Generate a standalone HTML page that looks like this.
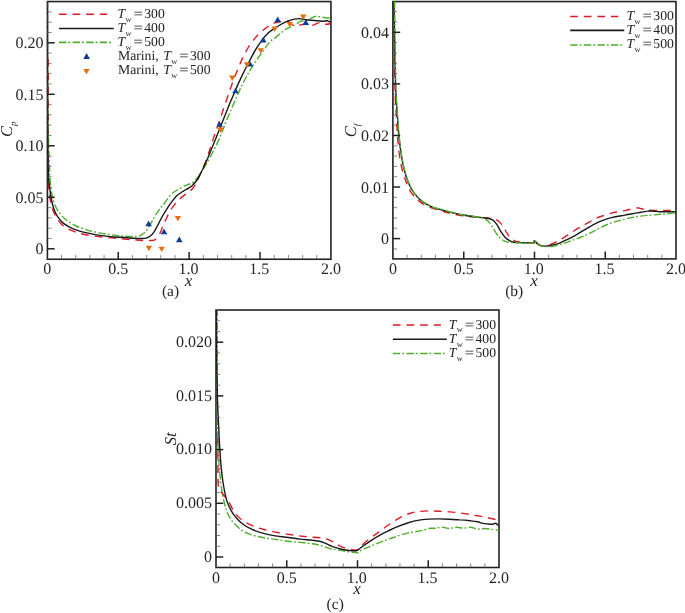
<!DOCTYPE html>
<html><head><meta charset="utf-8"><title>Figure</title>
<style>
html,body{margin:0;padding:0;background:#fff;}
svg{display:block;text-rendering:geometricPrecision;font-family:"Liberation Serif", "Times New Roman", serif;fill:#242424;}
</style></head>
<body>
<svg width="685" height="613" viewBox="0 0 685 613">
<rect x="0" y="0" width="685" height="613" fill="#ffffff"/>
<clipPath id="ca"><rect x="47.4" y="1.55" width="283.55" height="257.7"/></clipPath>
<rect x="47.4" y="1.55" width="283.55" height="257.70" fill="none" stroke="#222" stroke-width="1.6"/>
<g clip-path="url(#ca)">
<path d="M48.3,59.0 C48.3,69.2 48.3,99.7 48.3,120.0 C48.3,140.3 48.1,167.9 48.3,180.6 C48.5,193.3 49.0,191.8 49.7,196.4 C50.4,201.0 51.3,204.5 52.3,207.9 C53.3,211.3 54.4,214.1 55.9,216.7 C57.4,219.3 59.0,221.6 61.1,223.7 C63.2,225.8 65.2,227.4 68.2,229.0 C71.2,230.6 75.0,232.0 78.8,233.1 C82.6,234.2 86.7,234.9 91.1,235.6 C95.5,236.3 100.5,236.8 105.2,237.3 C109.9,237.8 114.6,238.1 119.3,238.5 C124.0,238.9 129.3,239.5 133.4,239.8 C137.5,240.1 141.0,240.4 144.0,240.5 C147.0,240.6 149.7,240.6 151.5,240.5 C153.3,240.4 153.8,240.3 154.8,239.8 C155.8,239.3 156.4,238.8 157.4,237.4 C158.4,236.0 160.0,233.4 160.9,231.3 C161.8,229.2 162.2,227.2 163.1,225.1 C164.0,223.0 165.2,221.0 166.2,219.0 C167.1,217.0 167.7,215.3 168.8,213.3 C169.9,211.3 171.2,209.2 172.7,207.2 C174.2,205.2 175.6,203.1 177.6,201.1 C179.6,199.1 182.4,196.7 184.6,194.9 C186.8,193.1 189.2,192.0 190.8,190.5 C192.4,189.0 193.1,187.8 194.3,186.1 C195.5,184.3 196.5,182.8 197.8,180.0 C199.1,177.2 200.7,172.9 202.2,169.4 C203.7,165.9 204.8,164.0 206.7,158.8 C208.6,153.6 211.2,144.9 213.5,138.1 C215.8,131.3 218.2,124.7 220.5,117.8 C222.8,110.9 225.5,102.7 227.6,96.7 C229.7,90.7 231.1,86.5 232.9,81.7 C234.7,76.9 236.5,72.2 238.3,67.9 C240.1,63.6 241.8,59.5 243.8,55.6 C245.8,51.7 248.0,47.8 250.3,44.4 C252.6,41.0 255.1,37.9 257.5,35.3 C259.9,32.7 262.6,30.6 264.7,28.9 C266.8,27.2 268.4,26.2 270.0,25.2 C271.6,24.2 272.6,23.5 274.6,22.9 C276.6,22.2 280.1,21.7 281.8,21.3 C283.5,20.9 283.8,20.5 284.8,20.5 C285.8,20.5 286.9,20.8 287.9,21.3 C288.9,21.8 290.0,22.8 291.0,23.5 C292.0,24.2 292.4,25.5 294.0,25.7 C295.6,25.9 299.0,25.1 300.7,24.9 C302.4,24.7 302.9,24.4 304.0,24.3 C305.1,24.2 306.2,24.2 307.3,24.4 C308.4,24.6 309.4,25.3 310.5,25.4 C311.6,25.5 312.8,25.2 313.9,24.9 C315.0,24.5 316.0,23.7 317.0,23.3 C318.0,22.9 318.9,22.6 320.0,22.6 C321.1,22.6 322.4,23.2 323.5,23.5 C324.6,23.8 325.4,24.2 326.7,24.2 C327.9,24.2 330.3,23.6 331.0,23.5" fill="none" stroke="#df1a26" stroke-width="1.4" stroke-dasharray="7.7 5.9" stroke-linejoin="round"/>
<path d="M47.5,1.0 C47.5,17.5 47.5,76.8 47.7,100.0 C47.9,123.2 48.2,128.3 48.5,140.0 C48.8,151.7 49.2,162.1 49.6,170.0 C50.0,177.9 50.3,182.6 50.9,187.6 C51.5,192.6 52.2,196.5 53.2,200.0 C54.2,203.5 55.4,206.3 56.7,208.8 C58.0,211.3 59.5,213.0 61.1,214.9 C62.7,216.8 64.1,218.4 66.4,220.2 C68.8,222.0 72.0,223.9 75.2,225.5 C78.4,227.1 82.0,228.4 85.8,229.6 C89.6,230.8 94.0,231.8 98.1,232.6 C102.2,233.4 106.4,234.1 110.5,234.7 C114.6,235.3 118.9,235.7 122.8,236.0 C126.7,236.3 131.0,236.6 133.8,236.5 C136.7,236.4 138.3,236.2 139.9,235.7 C141.5,235.2 142.2,234.4 143.4,233.5 C144.6,232.6 145.7,231.5 146.9,230.0 C148.1,228.5 149.2,226.3 150.4,224.3 C151.6,222.3 152.7,220.1 153.9,218.1 C155.1,216.1 156.2,214.2 157.4,212.4 C158.6,210.6 159.7,209.0 160.9,207.4 C162.1,205.8 162.8,205.2 164.6,203.0 C166.3,200.8 168.9,196.5 171.4,194.1 C173.9,191.7 176.8,190.3 179.3,188.8 C181.8,187.3 184.2,186.2 186.4,185.2 C188.6,184.2 190.7,183.9 192.6,182.6 C194.5,181.3 196.1,179.5 197.8,177.3 C199.6,175.1 201.2,172.5 203.1,169.4 C205.0,166.3 206.7,163.7 209.3,158.8 C211.9,153.9 216.1,146.0 218.8,139.9 C221.6,133.8 223.5,127.9 225.8,122.2 C228.2,116.5 230.6,110.9 232.9,105.5 C235.2,100.1 237.6,94.6 239.9,89.6 C242.2,84.6 244.6,80.0 247.0,75.6 C249.4,71.2 251.8,67.4 254.5,63.2 C257.2,59.0 260.9,54.1 263.5,50.5 C266.1,46.9 268.1,43.8 270.0,41.8 C271.9,39.8 273.0,39.5 274.6,38.2 C276.2,36.9 277.9,35.6 279.7,34.1 C281.5,32.6 283.5,30.7 285.3,29.5 C287.1,28.3 288.7,27.9 290.4,27.0 C292.1,26.1 293.8,25.3 295.5,24.4 C297.2,23.5 299.0,22.1 300.7,21.4 C302.4,20.7 304.1,20.8 305.8,20.3 C307.5,19.8 309.4,18.9 310.9,18.3 C312.4,17.7 313.5,16.8 315.0,16.5 C316.5,16.2 318.4,16.6 320.1,16.8 C321.8,17.0 323.5,17.6 325.2,17.8 C326.9,18.0 329.4,18.1 330.3,18.1" fill="none" stroke="#4fae2a" stroke-width="1.4" stroke-dasharray="7.4 2 1.8 2.4" stroke-linejoin="round"/>
<path d="M47.5,1.0 C47.5,17.5 47.5,71.8 47.6,100.0 C47.7,128.2 47.9,155.4 48.3,170.0 C48.6,184.6 49.2,182.6 49.7,187.6 C50.2,192.6 50.8,196.3 51.5,200.0 C52.2,203.7 53.1,206.8 54.1,209.6 C55.1,212.4 56.1,214.5 57.6,216.7 C59.1,218.9 60.8,221.1 62.9,222.9 C65.0,224.7 67.3,226.0 70.0,227.3 C72.7,228.6 75.6,229.8 78.8,230.8 C82.0,231.8 85.5,232.6 89.3,233.4 C93.1,234.2 97.6,235.0 101.7,235.6 C105.8,236.2 110.1,236.7 114.0,237.0 C117.9,237.3 121.7,237.3 125.0,237.5 C128.3,237.7 130.9,238.1 133.8,238.3 C136.7,238.5 140.3,238.6 142.5,238.5 C144.7,238.4 145.6,238.2 146.9,237.8 C148.2,237.4 149.2,236.9 150.4,236.0 C151.6,235.1 152.7,233.8 153.9,232.1 C155.1,230.4 156.2,228.2 157.4,226.0 C158.6,223.8 159.7,221.2 160.9,219.0 C162.1,216.8 163.2,214.8 164.4,212.9 C165.6,211.0 166.8,209.1 167.9,207.4 C169.0,205.7 169.7,204.5 171.2,202.6 C172.7,200.7 174.8,197.7 176.7,195.8 C178.6,193.9 180.8,192.7 182.9,191.4 C185.0,190.1 187.4,188.9 189.0,187.9 C190.6,186.9 191.3,186.5 192.6,185.2 C193.9,183.9 195.4,182.5 197.0,180.0 C198.6,177.5 200.4,173.8 202.2,170.3 C203.9,166.8 205.3,163.9 207.5,158.8 C209.7,153.7 212.7,146.0 215.2,139.9 C217.7,133.8 220.0,128.1 222.3,122.2 C224.7,116.3 227.0,110.3 229.3,104.6 C231.7,98.9 234.1,93.2 236.4,87.9 C238.8,82.6 241.1,77.6 243.4,72.9 C245.7,68.2 247.9,64.0 250.0,60.0 C252.1,56.0 253.8,52.6 255.9,49.2 C257.9,45.8 260.2,42.6 262.3,39.8 C264.4,37.0 266.4,34.7 268.7,32.6 C271.0,30.5 273.8,28.9 276.1,27.4 C278.4,25.9 280.2,24.7 282.3,23.6 C284.4,22.5 286.4,21.6 288.4,20.8 C290.4,20.1 292.6,19.5 294.5,19.1 C296.4,18.7 297.9,18.5 299.6,18.6 C301.3,18.7 302.8,19.2 304.7,19.5 C306.6,19.8 308.7,20.1 310.9,20.3 C313.1,20.5 316.0,20.6 318.0,20.8 C320.0,21.0 321.7,21.3 323.1,21.3 C324.6,21.3 325.4,20.7 326.7,20.8 C328.0,20.9 330.1,22.0 330.8,22.2" fill="none" stroke="#1a1a1a" stroke-width="1.4" stroke-linejoin="round"/>
<path d="M145.3,226.2 L151.9,226.2 L148.6,220.5 Z" fill="#0f3c96"/>
<path d="M160.7,234.2 L167.3,234.2 L164.0,228.6 Z" fill="#0f3c96"/>
<path d="M176.0,242.2 L182.6,242.2 L179.3,236.5 Z" fill="#0f3c96"/>
<path d="M216.3,126.8 L222.9,126.8 L219.6,121.2 Z" fill="#0f3c96"/>
<path d="M232.2,93.3 L238.8,93.3 L235.5,87.7 Z" fill="#0f3c96"/>
<path d="M246.7,66.5 L253.3,66.5 L250.0,60.8 Z" fill="#0f3c96"/>
<path d="M274.4,22.2 L281.0,22.2 L277.7,16.4 Z" fill="#0f3c96"/>
<path d="M302.5,25.1 L309.1,25.1 L305.8,19.3 Z" fill="#0f3c96"/>
<path d="M259.9,42.4 L266.5,42.4 L263.2,36.6 Z" fill="#0f3c96"/>
<path d="M145.7,245.7 L152.1,245.7 L148.9,251.1 Z" fill="#e66e0a"/>
<path d="M158.5,246.7 L164.9,246.7 L161.7,252.1 Z" fill="#e66e0a"/>
<path d="M174.7,216.0 L181.1,216.0 L177.9,221.4 Z" fill="#e66e0a"/>
<path d="M217.3,127.5 L223.7,127.5 L220.5,132.9 Z" fill="#e66e0a"/>
<path d="M229.1,75.5 L235.5,75.5 L232.3,80.9 Z" fill="#e66e0a"/>
<path d="M243.8,62.3 L250.2,62.3 L247.0,67.7 Z" fill="#e66e0a"/>
<path d="M257.5,48.2 L263.9,48.2 L260.7,53.6 Z" fill="#e66e0a"/>
<path d="M271.4,26.6 L277.8,26.6 L274.6,32.0 Z" fill="#e66e0a"/>
<path d="M286.5,21.9 L292.9,21.9 L289.7,27.3 Z" fill="#e66e0a"/>
<path d="M300.0,14.6 L306.4,14.6 L303.2,20.0 Z" fill="#e66e0a"/>
</g>
<line x1="61.53" y1="259.25" x2="61.53" y2="255.05" stroke="#555" stroke-width="0.7"/>
<line x1="75.71" y1="259.25" x2="75.71" y2="255.05" stroke="#555" stroke-width="0.7"/>
<line x1="89.89" y1="259.25" x2="89.89" y2="255.05" stroke="#555" stroke-width="0.7"/>
<line x1="104.07" y1="259.25" x2="104.07" y2="255.05" stroke="#555" stroke-width="0.7"/>
<line x1="132.43" y1="259.25" x2="132.43" y2="255.05" stroke="#555" stroke-width="0.7"/>
<line x1="146.61" y1="259.25" x2="146.61" y2="255.05" stroke="#555" stroke-width="0.7"/>
<line x1="160.79" y1="259.25" x2="160.79" y2="255.05" stroke="#555" stroke-width="0.7"/>
<line x1="174.97" y1="259.25" x2="174.97" y2="255.05" stroke="#555" stroke-width="0.7"/>
<line x1="203.33" y1="259.25" x2="203.33" y2="255.05" stroke="#555" stroke-width="0.7"/>
<line x1="217.51" y1="259.25" x2="217.51" y2="255.05" stroke="#555" stroke-width="0.7"/>
<line x1="231.69" y1="259.25" x2="231.69" y2="255.05" stroke="#555" stroke-width="0.7"/>
<line x1="245.87" y1="259.25" x2="245.87" y2="255.05" stroke="#555" stroke-width="0.7"/>
<line x1="274.23" y1="259.25" x2="274.23" y2="255.05" stroke="#555" stroke-width="0.7"/>
<line x1="288.41" y1="259.25" x2="288.41" y2="255.05" stroke="#555" stroke-width="0.7"/>
<line x1="302.59" y1="259.25" x2="302.59" y2="255.05" stroke="#555" stroke-width="0.7"/>
<line x1="316.77" y1="259.25" x2="316.77" y2="255.05" stroke="#555" stroke-width="0.7"/>
<line x1="118.25" y1="259.25" x2="118.25" y2="251.95" stroke="#222" stroke-width="1.5"/>
<line x1="189.15" y1="259.25" x2="189.15" y2="251.95" stroke="#222" stroke-width="1.5"/>
<line x1="260.05" y1="259.25" x2="260.05" y2="251.95" stroke="#222" stroke-width="1.5"/>
<line x1="47.4" y1="238.50" x2="51.6" y2="238.50" stroke="#555" stroke-width="0.7"/>
<line x1="47.4" y1="228.20" x2="51.6" y2="228.20" stroke="#555" stroke-width="0.7"/>
<line x1="47.4" y1="217.90" x2="51.6" y2="217.90" stroke="#555" stroke-width="0.7"/>
<line x1="47.4" y1="207.60" x2="51.6" y2="207.60" stroke="#555" stroke-width="0.7"/>
<line x1="47.4" y1="187.00" x2="51.6" y2="187.00" stroke="#555" stroke-width="0.7"/>
<line x1="47.4" y1="176.70" x2="51.6" y2="176.70" stroke="#555" stroke-width="0.7"/>
<line x1="47.4" y1="166.40" x2="51.6" y2="166.40" stroke="#555" stroke-width="0.7"/>
<line x1="47.4" y1="156.10" x2="51.6" y2="156.10" stroke="#555" stroke-width="0.7"/>
<line x1="47.4" y1="135.50" x2="51.6" y2="135.50" stroke="#555" stroke-width="0.7"/>
<line x1="47.4" y1="125.20" x2="51.6" y2="125.20" stroke="#555" stroke-width="0.7"/>
<line x1="47.4" y1="114.90" x2="51.6" y2="114.90" stroke="#555" stroke-width="0.7"/>
<line x1="47.4" y1="104.60" x2="51.6" y2="104.60" stroke="#555" stroke-width="0.7"/>
<line x1="47.4" y1="84.00" x2="51.6" y2="84.00" stroke="#555" stroke-width="0.7"/>
<line x1="47.4" y1="73.70" x2="51.6" y2="73.70" stroke="#555" stroke-width="0.7"/>
<line x1="47.4" y1="63.40" x2="51.6" y2="63.40" stroke="#555" stroke-width="0.7"/>
<line x1="47.4" y1="53.10" x2="51.6" y2="53.10" stroke="#555" stroke-width="0.7"/>
<line x1="47.4" y1="32.50" x2="51.6" y2="32.50" stroke="#555" stroke-width="0.7"/>
<line x1="47.4" y1="22.20" x2="51.6" y2="22.20" stroke="#555" stroke-width="0.7"/>
<line x1="47.4" y1="11.90" x2="51.6" y2="11.90" stroke="#555" stroke-width="0.7"/>
<line x1="47.4" y1="248.80" x2="54.699999999999996" y2="248.80" stroke="#222" stroke-width="1.5"/>
<line x1="47.4" y1="197.30" x2="54.699999999999996" y2="197.30" stroke="#222" stroke-width="1.5"/>
<line x1="47.4" y1="145.80" x2="54.699999999999996" y2="145.80" stroke="#222" stroke-width="1.5"/>
<line x1="47.4" y1="94.30" x2="54.699999999999996" y2="94.30" stroke="#222" stroke-width="1.5"/>
<line x1="47.4" y1="42.80" x2="54.699999999999996" y2="42.80" stroke="#222" stroke-width="1.5"/>
<text x="43.40" y="254.30" text-anchor="end" font-size="16">0</text>
<text x="43.40" y="202.80" text-anchor="end" font-size="16">0.05</text>
<text x="43.40" y="151.30" text-anchor="end" font-size="16">0.10</text>
<text x="43.40" y="99.80" text-anchor="end" font-size="16">0.15</text>
<text x="43.40" y="48.30" text-anchor="end" font-size="16">0.20</text>
<text x="47.35" y="274.45" text-anchor="middle" font-size="16">0</text>
<text x="118.25" y="274.45" text-anchor="middle" font-size="16">0.5</text>
<text x="188.45" y="274.45" text-anchor="middle" font-size="16">1.0</text>
<text x="259.35" y="274.45" text-anchor="middle" font-size="16">1.5</text>
<text x="330.95" y="274.45" text-anchor="middle" font-size="16">2.0</text>
<line x1="59" y1="14.3" x2="107" y2="14.3" stroke="#df1a26" stroke-width="1.6" stroke-dasharray="7.7 5.9"/>
<line x1="59" y1="28.5" x2="113.8" y2="28.5" stroke="#1a1a1a" stroke-width="1.6"/>
<line x1="59" y1="42.4" x2="111.2" y2="42.4" stroke="#4fae2a" stroke-width="1.6" stroke-dasharray="7.4 2 1.8 2.4"/>
<path d="M83.3,58.9 L89.9,58.9 L86.6,53.1 Z" fill="#0f3c96"/>
<path d="M83.3,68.9 L89.7,68.9 L86.5,74.3 Z" fill="#e66e0a"/>
<text x="117.4" y="17.8" font-size="13.7" font-style="italic">T</text>
<text x="125.5" y="21.6" font-size="8.2">w</text>
<text x="133.5" y="17.8" font-size="13.7" textLength="9.4" lengthAdjust="spacingAndGlyphs">=</text>
<text x="144.2" y="17.8" font-size="13.7">300</text>
<text x="117.4" y="31.8" font-size="13.7" font-style="italic">T</text>
<text x="125.5" y="35.6" font-size="8.2">w</text>
<text x="133.5" y="31.8" font-size="13.7" textLength="9.4" lengthAdjust="spacingAndGlyphs">=</text>
<text x="144.2" y="31.8" font-size="13.7">400</text>
<text x="117.4" y="45.9" font-size="13.7" font-style="italic">T</text>
<text x="125.5" y="49.7" font-size="8.2">w</text>
<text x="133.5" y="45.9" font-size="13.7" textLength="9.4" lengthAdjust="spacingAndGlyphs">=</text>
<text x="144.2" y="45.9" font-size="13.7">500</text>
<text x="118.0" y="60.2" font-size="13.7">Marini,</text>
<text x="163.2" y="60.2" font-size="13.7" font-style="italic">T</text>
<text x="171.3" y="64.0" font-size="8.2">w</text>
<text x="179.3" y="60.2" font-size="13.7" textLength="9.4" lengthAdjust="spacingAndGlyphs">=</text>
<text x="190.0" y="60.2" font-size="13.7">300</text>
<text x="118.0" y="74.4" font-size="13.7">Marini,</text>
<text x="163.2" y="74.4" font-size="13.7" font-style="italic">T</text>
<text x="171.3" y="78.2" font-size="8.2">w</text>
<text x="179.3" y="74.4" font-size="13.7" textLength="9.4" lengthAdjust="spacingAndGlyphs">=</text>
<text x="190.0" y="74.4" font-size="13.7">500</text>
<text transform="translate(12.2,137) rotate(-90)" font-size="16.5" font-style="italic">C<tspan font-size="9" dy="3.4">p</tspan></text>
<text x="188.4" y="286.1" text-anchor="middle" font-size="17" font-style="italic">x</text>
<text x="170.5" y="296.3" text-anchor="middle" font-size="15.5">(a)</text>
<clipPath id="cb"><rect x="392.9" y="1.55" width="283.1" height="257.34999999999997"/></clipPath>
<rect x="392.9" y="1.55" width="283.10" height="257.35" fill="none" stroke="#222" stroke-width="1.6"/>
<g clip-path="url(#cb)">
<path d="M393.7,1.0 C393.8,9.2 394.1,34.1 394.4,50.0 C394.6,65.9 394.9,85.4 395.2,96.2 C395.5,107.0 395.9,108.8 396.2,114.6 C396.5,120.4 396.8,125.3 397.2,131.1 C397.6,136.9 398.0,143.7 398.7,149.5 C399.4,155.3 400.2,160.9 401.3,166.0 C402.4,171.1 403.9,176.0 405.5,180.3 C407.1,184.6 408.4,188.2 410.6,191.6 C412.8,195.0 415.7,198.3 418.8,200.9 C421.9,203.5 425.3,205.3 429.1,207.0 C432.9,208.7 437.8,209.8 441.4,210.8 C445.0,211.9 446.9,212.5 450.5,213.3 C454.1,214.2 458.7,215.3 462.8,215.9 C466.9,216.5 470.9,216.8 475.0,217.1 C479.1,217.4 484.1,217.7 487.3,218.0 C490.5,218.3 492.4,218.4 494.3,218.9 C496.2,219.4 497.2,219.9 498.7,221.2 C500.2,222.4 501.8,224.5 503.1,226.4 C504.4,228.3 505.4,230.8 506.6,232.6 C507.8,234.4 508.8,236.1 510.1,237.5 C511.4,238.9 512.8,240.0 514.5,240.8 C516.2,241.6 517.5,241.8 520.6,242.2 C523.7,242.5 530.7,242.8 532.9,242.9 C535.1,243.0 533.6,242.9 533.7,242.9 L534.0,241.0 C534.1,241.0 534.2,240.6 534.5,240.8 C534.8,241.0 535.4,241.7 536.0,242.3 C536.6,242.9 537.2,243.8 538.1,244.4 C539.0,245.0 540.3,245.5 541.5,245.7 C542.7,245.9 543.7,246.1 545.4,245.8 C547.1,245.5 549.8,244.8 551.9,244.0 C554.0,243.2 555.8,242.1 557.7,241.1 C559.6,240.1 561.5,239.1 563.5,237.9 C565.5,236.7 567.4,235.4 569.4,234.1 C571.4,232.8 573.2,231.3 575.2,230.0 C577.2,228.7 579.2,227.6 581.1,226.5 C583.0,225.4 585.0,224.5 586.9,223.4 C588.8,222.3 590.9,221.1 592.7,220.1 C594.5,219.1 595.7,218.4 597.6,217.6 C599.5,216.8 601.9,216.2 604.2,215.4 C606.5,214.7 609.1,213.7 611.4,213.1 C613.7,212.5 615.6,212.2 618.0,211.8 C620.4,211.4 623.7,210.9 625.9,210.4 C628.1,209.9 629.5,209.3 631.1,208.9 C632.7,208.5 634.3,208.1 635.5,207.9 C636.7,207.8 637.1,207.8 638.5,208.0 C639.9,208.2 641.6,208.8 643.6,209.2 C645.6,209.5 648.0,209.9 650.2,210.1 C652.4,210.3 654.6,210.4 656.8,210.5 C659.0,210.6 661.2,210.5 663.3,210.5 C665.4,210.5 667.1,210.6 669.2,210.5 C671.3,210.4 674.9,209.8 676.0,209.7" fill="none" stroke="#df1a26" stroke-width="1.4" stroke-dasharray="7.7 5.9" stroke-linejoin="round"/>
<path d="M394.0,1.0 C394.1,9.2 394.5,35.2 394.8,50.0 C395.1,64.8 395.3,79.9 395.7,90.0 C396.1,100.1 396.5,103.7 397.0,110.5 C397.5,117.3 397.9,124.6 398.5,131.1 C399.1,137.6 399.6,143.3 400.5,149.5 C401.4,155.7 402.5,162.5 403.8,168.0 C405.1,173.5 406.5,178.1 408.3,182.4 C410.1,186.7 412.1,190.4 414.5,193.7 C416.9,196.9 419.6,199.6 422.7,201.9 C425.8,204.2 430.1,206.1 433.0,207.3 C435.9,208.6 437.1,208.6 440.0,209.4 C442.9,210.2 446.7,211.5 450.5,212.4 C454.3,213.3 458.7,214.3 462.8,215.0 C466.9,215.7 471.2,216.3 475.0,216.8 C478.8,217.3 482.6,217.5 485.5,218.0 C488.4,218.5 490.7,218.7 492.6,219.8 C494.5,220.9 495.6,222.9 496.9,224.7 C498.2,226.5 499.1,228.8 500.4,230.8 C501.7,232.8 503.3,235.3 504.8,236.9 C506.3,238.5 507.7,239.5 509.2,240.4 C510.7,241.3 511.4,241.8 513.6,242.2 C515.8,242.6 519.1,242.6 522.3,242.7 C525.5,242.8 531.0,242.9 532.9,242.9 C534.8,242.9 533.6,242.9 533.7,242.9 L534.0,241.0 C534.1,241.0 534.2,240.6 534.5,240.8 C534.8,241.0 535.4,241.7 536.0,242.3 C536.6,242.9 537.3,243.7 538.0,244.2 C538.7,244.7 539.0,245.1 540.0,245.4 C541.0,245.7 542.1,246.0 543.7,246.1 C545.3,246.2 547.5,246.1 549.5,245.8 C551.5,245.5 553.4,245.0 555.4,244.4 C557.4,243.8 559.3,243.1 561.2,242.3 C563.1,241.5 564.7,240.8 567.0,239.7 C569.3,238.6 572.5,237.0 575.0,235.6 C577.5,234.2 579.9,232.7 582.3,231.2 C584.7,229.7 587.2,228.2 589.6,226.8 C592.0,225.4 594.5,224.1 596.9,222.9 C599.3,221.7 601.8,220.7 604.2,219.8 C606.6,218.9 608.6,218.3 611.5,217.6 C614.4,216.9 618.6,216.3 621.3,215.8 C624.0,215.3 625.6,214.9 627.8,214.5 C630.0,214.1 632.2,213.8 634.4,213.4 C636.6,213.0 638.8,212.7 641.0,212.3 C643.2,211.9 646.1,211.3 647.6,211.1 C649.1,210.8 649.1,210.8 650.2,210.8 C651.3,210.9 652.4,211.2 654.1,211.4 C655.9,211.6 658.3,211.8 660.7,211.8 C663.1,211.9 666.4,211.7 668.6,211.7 C670.8,211.7 672.6,211.7 673.8,211.8 C675.0,211.9 675.6,212.3 676.0,212.4" fill="none" stroke="#1a1a1a" stroke-width="1.4" stroke-linejoin="round"/>
<path d="M394.6,1.0 C394.7,9.2 395.0,35.2 395.2,50.0 C395.4,64.8 395.7,79.9 396.0,90.0 C396.3,100.1 396.8,103.7 397.2,110.5 C397.6,117.3 398.1,124.6 398.7,131.1 C399.3,137.6 399.8,143.3 400.7,149.5 C401.6,155.7 402.7,162.5 404.0,168.0 C405.3,173.5 406.7,178.1 408.5,182.4 C410.3,186.7 412.3,190.4 414.7,193.7 C417.1,196.9 419.8,199.6 422.9,201.9 C426.0,204.2 430.3,206.3 433.2,207.5 C436.1,208.7 435.9,207.8 440.0,208.8 C444.1,209.9 451.7,212.5 457.5,213.8 C463.3,215.1 470.8,216.1 475.0,216.8 C479.2,217.5 480.7,217.5 482.9,218.2 C485.1,218.9 486.6,219.7 488.2,221.2 C489.8,222.7 491.2,225.1 492.6,227.3 C494.1,229.5 495.4,232.3 496.9,234.3 C498.3,236.3 499.7,237.9 501.3,239.2 C502.9,240.4 504.6,241.2 506.6,241.8 C508.7,242.4 509.2,242.5 513.6,242.7 C518.0,242.9 529.5,243.0 532.9,243.1 C536.2,243.2 533.6,243.1 533.7,243.1 L534.0,241.0 C534.1,241.0 534.2,240.6 534.5,240.8 C534.8,241.0 535.4,241.8 536.0,242.4 C536.6,243.0 537.3,243.9 538.0,244.4 C538.7,244.9 538.9,245.3 540.2,245.7 C541.5,246.1 543.9,246.5 546.0,246.6 C548.1,246.7 550.7,246.5 553.0,246.2 C555.3,245.9 557.7,245.2 560.0,244.6 C562.3,243.9 564.6,243.1 567.0,242.3 C569.4,241.5 571.8,240.5 574.1,239.6 C576.5,238.7 578.8,237.9 581.1,237.0 C583.4,236.1 585.8,235.2 588.1,234.1 C590.4,233.0 592.9,231.7 595.1,230.5 C597.4,229.3 599.4,228.2 601.6,227.2 C603.8,226.1 605.9,225.1 608.1,224.2 C610.3,223.3 612.5,222.6 614.7,221.9 C616.9,221.2 619.1,220.6 621.3,220.0 C623.5,219.4 625.6,218.9 627.8,218.4 C630.0,217.9 632.2,217.5 634.4,217.1 C636.6,216.7 638.8,216.4 641.0,216.1 C643.2,215.8 645.4,215.6 647.6,215.4 C649.8,215.2 651.9,215.1 654.1,214.9 C656.3,214.7 658.5,214.5 660.7,214.3 C662.9,214.1 664.8,214.0 667.3,213.7 C669.8,213.4 674.5,212.9 676.0,212.7" fill="none" stroke="#4fae2a" stroke-width="1.4" stroke-dasharray="7.4 2 1.8 2.4" stroke-linejoin="round"/>
</g>
<line x1="407.15" y1="258.9" x2="407.15" y2="254.7" stroke="#555" stroke-width="0.7"/>
<line x1="421.30" y1="258.9" x2="421.30" y2="254.7" stroke="#555" stroke-width="0.7"/>
<line x1="435.45" y1="258.9" x2="435.45" y2="254.7" stroke="#555" stroke-width="0.7"/>
<line x1="449.60" y1="258.9" x2="449.60" y2="254.7" stroke="#555" stroke-width="0.7"/>
<line x1="477.90" y1="258.9" x2="477.90" y2="254.7" stroke="#555" stroke-width="0.7"/>
<line x1="492.05" y1="258.9" x2="492.05" y2="254.7" stroke="#555" stroke-width="0.7"/>
<line x1="506.20" y1="258.9" x2="506.20" y2="254.7" stroke="#555" stroke-width="0.7"/>
<line x1="520.35" y1="258.9" x2="520.35" y2="254.7" stroke="#555" stroke-width="0.7"/>
<line x1="548.65" y1="258.9" x2="548.65" y2="254.7" stroke="#555" stroke-width="0.7"/>
<line x1="562.80" y1="258.9" x2="562.80" y2="254.7" stroke="#555" stroke-width="0.7"/>
<line x1="576.95" y1="258.9" x2="576.95" y2="254.7" stroke="#555" stroke-width="0.7"/>
<line x1="591.10" y1="258.9" x2="591.10" y2="254.7" stroke="#555" stroke-width="0.7"/>
<line x1="619.40" y1="258.9" x2="619.40" y2="254.7" stroke="#555" stroke-width="0.7"/>
<line x1="633.55" y1="258.9" x2="633.55" y2="254.7" stroke="#555" stroke-width="0.7"/>
<line x1="647.70" y1="258.9" x2="647.70" y2="254.7" stroke="#555" stroke-width="0.7"/>
<line x1="661.85" y1="258.9" x2="661.85" y2="254.7" stroke="#555" stroke-width="0.7"/>
<line x1="463.75" y1="258.9" x2="463.75" y2="251.59999999999997" stroke="#222" stroke-width="1.5"/>
<line x1="534.50" y1="258.9" x2="534.50" y2="251.59999999999997" stroke="#222" stroke-width="1.5"/>
<line x1="605.25" y1="258.9" x2="605.25" y2="251.59999999999997" stroke="#222" stroke-width="1.5"/>
<line x1="392.9" y1="248.91" x2="397.09999999999997" y2="248.91" stroke="#555" stroke-width="0.7"/>
<line x1="392.9" y1="228.29" x2="397.09999999999997" y2="228.29" stroke="#555" stroke-width="0.7"/>
<line x1="392.9" y1="217.97" x2="397.09999999999997" y2="217.97" stroke="#555" stroke-width="0.7"/>
<line x1="392.9" y1="207.66" x2="397.09999999999997" y2="207.66" stroke="#555" stroke-width="0.7"/>
<line x1="392.9" y1="197.34" x2="397.09999999999997" y2="197.34" stroke="#555" stroke-width="0.7"/>
<line x1="392.9" y1="176.72" x2="397.09999999999997" y2="176.72" stroke="#555" stroke-width="0.7"/>
<line x1="392.9" y1="166.40" x2="397.09999999999997" y2="166.40" stroke="#555" stroke-width="0.7"/>
<line x1="392.9" y1="156.09" x2="397.09999999999997" y2="156.09" stroke="#555" stroke-width="0.7"/>
<line x1="392.9" y1="145.77" x2="397.09999999999997" y2="145.77" stroke="#555" stroke-width="0.7"/>
<line x1="392.9" y1="125.15" x2="397.09999999999997" y2="125.15" stroke="#555" stroke-width="0.7"/>
<line x1="392.9" y1="114.83" x2="397.09999999999997" y2="114.83" stroke="#555" stroke-width="0.7"/>
<line x1="392.9" y1="104.52" x2="397.09999999999997" y2="104.52" stroke="#555" stroke-width="0.7"/>
<line x1="392.9" y1="94.20" x2="397.09999999999997" y2="94.20" stroke="#555" stroke-width="0.7"/>
<line x1="392.9" y1="73.58" x2="397.09999999999997" y2="73.58" stroke="#555" stroke-width="0.7"/>
<line x1="392.9" y1="63.26" x2="397.09999999999997" y2="63.26" stroke="#555" stroke-width="0.7"/>
<line x1="392.9" y1="52.95" x2="397.09999999999997" y2="52.95" stroke="#555" stroke-width="0.7"/>
<line x1="392.9" y1="42.63" x2="397.09999999999997" y2="42.63" stroke="#555" stroke-width="0.7"/>
<line x1="392.9" y1="22.01" x2="397.09999999999997" y2="22.01" stroke="#555" stroke-width="0.7"/>
<line x1="392.9" y1="11.69" x2="397.09999999999997" y2="11.69" stroke="#555" stroke-width="0.7"/>
<line x1="392.9" y1="238.60" x2="400.2" y2="238.60" stroke="#222" stroke-width="1.5"/>
<line x1="392.9" y1="187.03" x2="400.2" y2="187.03" stroke="#222" stroke-width="1.5"/>
<line x1="392.9" y1="135.46" x2="400.2" y2="135.46" stroke="#222" stroke-width="1.5"/>
<line x1="392.9" y1="83.89" x2="400.2" y2="83.89" stroke="#222" stroke-width="1.5"/>
<line x1="392.9" y1="32.32" x2="400.2" y2="32.32" stroke="#222" stroke-width="1.5"/>
<text x="388.90" y="244.10" text-anchor="end" font-size="16">0</text>
<text x="388.90" y="192.53" text-anchor="end" font-size="16">0.01</text>
<text x="388.90" y="140.96" text-anchor="end" font-size="16">0.02</text>
<text x="388.90" y="89.39" text-anchor="end" font-size="16">0.03</text>
<text x="388.90" y="37.82" text-anchor="end" font-size="16">0.04</text>
<text x="393.00" y="274.10" text-anchor="middle" font-size="16">0</text>
<text x="463.75" y="274.10" text-anchor="middle" font-size="16">0.5</text>
<text x="533.80" y="274.10" text-anchor="middle" font-size="16">1.0</text>
<text x="604.55" y="274.10" text-anchor="middle" font-size="16">1.5</text>
<text x="676.00" y="274.10" text-anchor="middle" font-size="16">2.0</text>
<line x1="570.2" y1="16.5" x2="618.2" y2="16.5" stroke="#df1a26" stroke-width="1.6" stroke-dasharray="7.7 5.9"/>
<line x1="570.2" y1="30.4" x2="624.3" y2="30.4" stroke="#1a1a1a" stroke-width="1.6"/>
<line x1="570.2" y1="45.0" x2="622.4" y2="45.0" stroke="#4fae2a" stroke-width="1.6" stroke-dasharray="7.4 2 1.8 2.4"/>
<text x="626.5" y="19.9" font-size="13.7" font-style="italic">T</text>
<text x="634.6" y="23.7" font-size="8.2">w</text>
<text x="642.6" y="19.9" font-size="13.7" textLength="9.4" lengthAdjust="spacingAndGlyphs">=</text>
<text x="653.3" y="19.9" font-size="13.7">300</text>
<text x="626.5" y="33.9" font-size="13.7" font-style="italic">T</text>
<text x="634.6" y="37.7" font-size="8.2">w</text>
<text x="642.6" y="33.9" font-size="13.7" textLength="9.4" lengthAdjust="spacingAndGlyphs">=</text>
<text x="653.3" y="33.9" font-size="13.7">400</text>
<text x="626.5" y="48.3" font-size="13.7" font-style="italic">T</text>
<text x="634.6" y="52.1" font-size="8.2">w</text>
<text x="642.6" y="48.3" font-size="13.7" textLength="9.4" lengthAdjust="spacingAndGlyphs">=</text>
<text x="653.3" y="48.3" font-size="13.7">500</text>
<text transform="translate(356.1,137.2) rotate(-90)" font-size="16.5" font-style="italic">C<tspan font-size="9" dy="3.4">f</tspan></text>
<text x="533.9" y="286.1" text-anchor="middle" font-size="17" font-style="italic">x</text>
<text x="514.2" y="296.0" text-anchor="middle" font-size="15.5">(b)</text>
<clipPath id="cc"><rect x="216.0" y="310.0" width="283.0" height="257.5"/></clipPath>
<rect x="216.0" y="310.0" width="283.00" height="257.50" fill="none" stroke="#222" stroke-width="1.6"/>
<g clip-path="url(#cc)">
<path d="M217.2,309.0 C217.2,317.5 217.2,344.8 217.2,360.0 C217.2,375.2 217.2,387.6 217.3,400.0 C217.4,412.4 217.4,423.6 217.7,434.3 C218.0,445.0 218.6,456.7 219.0,464.0 C219.4,471.3 219.9,473.8 220.3,478.0 C220.8,482.2 221.1,485.7 221.7,489.5 C222.3,493.3 223.0,497.0 223.8,500.6 C224.6,504.2 225.6,507.9 226.7,510.9 C227.8,513.9 229.0,516.2 230.4,518.5 C231.8,520.8 233.3,522.5 235.3,524.5 C237.3,526.5 239.7,529.0 242.3,530.7 C244.9,532.4 247.8,533.6 251.0,534.7 C254.2,535.8 258.3,536.6 261.5,537.3 C264.7,538.0 267.9,538.5 270.3,538.9 C272.7,539.2 272.7,539.0 275.6,539.4 C278.5,539.8 283.7,540.7 287.8,541.2 C291.9,541.7 296.0,542.0 300.1,542.4 C304.2,542.8 308.8,543.3 312.3,543.8 C315.8,544.3 318.2,544.8 321.1,545.6 C324.0,546.4 327.6,548.0 329.9,548.7 C332.2,549.4 333.0,549.3 335.0,549.6 C337.0,549.9 340.2,550.2 342.0,550.5 C343.8,550.8 343.8,551.1 345.5,551.4 C347.2,551.7 350.3,552.1 352.0,552.2 C353.7,552.3 354.6,552.1 355.5,552.2 C356.4,552.3 357.1,552.9 357.4,553.0 C357.8,552.7 358.8,551.8 359.6,551.3 C360.5,550.8 361.5,550.4 362.5,549.9 C363.5,549.4 363.8,549.2 365.5,548.4 C367.2,547.6 369.9,546.4 372.5,545.3 C375.1,544.2 378.4,542.9 381.3,541.8 C384.2,540.7 387.1,539.7 390.0,538.7 C392.9,537.7 395.9,536.5 398.8,535.6 C401.7,534.7 404.4,533.8 407.5,533.1 C410.6,532.4 415.0,531.8 417.6,531.3 C420.2,530.8 421.1,530.8 422.9,530.3 C424.7,529.8 426.1,528.9 428.2,528.5 C430.2,528.1 432.8,528.4 435.2,528.2 C437.6,528.0 439.9,527.2 442.3,527.3 C444.7,527.3 447.0,528.5 449.3,528.5 C451.6,528.5 454.0,527.3 456.4,527.3 C458.8,527.2 461.0,528.2 463.4,528.2 C465.8,528.2 468.1,527.1 470.5,527.3 C472.9,527.4 475.1,528.9 477.5,529.1 C479.9,529.3 482.2,528.5 484.6,528.5 C487.0,528.5 489.2,529.1 491.6,529.4 C494.0,529.7 497.5,530.1 498.7,530.3" fill="none" stroke="#4fae2a" stroke-width="1.4" stroke-dasharray="7.4 2 1.8 2.4" stroke-linejoin="round"/>
<path d="M217.8,438.0 C217.8,441.7 217.8,452.3 217.9,460.0 C218.0,467.7 217.8,479.0 218.2,484.0 C218.5,489.0 219.0,488.1 220.0,490.0 C221.0,491.9 222.6,493.7 224.0,495.5 C225.4,497.3 226.5,497.9 228.2,500.6 C229.9,503.3 231.8,508.5 234.0,511.6 C236.2,514.8 238.3,517.1 241.4,519.5 C244.5,521.9 248.9,524.2 252.8,525.9 C256.7,527.6 260.6,528.6 265.0,529.8 C269.4,530.9 274.4,531.9 279.1,532.8 C283.8,533.7 288.4,534.3 293.1,535.0 C297.8,535.7 302.7,536.3 307.1,536.8 C311.5,537.2 316.1,537.4 319.3,537.7 C322.5,538.1 324.0,538.2 326.4,538.9 C328.8,539.6 331.8,541.2 333.4,542.0 C335.0,542.8 334.8,543.1 336.0,543.8 C337.2,544.5 338.9,545.6 340.8,546.4 C342.7,547.2 345.4,548.2 347.3,548.7 C349.2,549.2 350.4,549.4 352.0,549.6 C353.6,549.8 356.2,549.9 357.0,549.9 C357.6,549.4 358.9,548.1 360.3,546.8 C361.7,545.5 363.7,543.5 365.5,542.0 C367.3,540.5 369.4,538.9 371.2,537.5 C373.0,536.1 374.8,534.9 376.5,533.6 C378.2,532.4 379.9,531.3 381.7,530.0 C383.4,528.7 385.2,527.3 387.0,526.0 C388.8,524.7 390.9,523.3 392.7,522.1 C394.5,520.9 395.9,519.9 397.9,518.8 C399.9,517.7 402.4,516.4 404.5,515.5 C406.6,514.6 408.0,513.8 410.2,513.2 C412.4,512.6 414.6,512.1 417.6,511.7 C420.6,511.3 424.6,511.0 428.1,510.9 C431.6,510.8 435.1,511.0 438.6,511.2 C442.1,511.4 445.8,511.6 449.3,511.9 C452.9,512.2 456.4,512.4 459.9,512.9 C463.4,513.4 467.0,514.0 470.5,514.6 C474.0,515.2 477.6,515.8 481.1,516.4 C484.6,517.0 488.7,517.8 491.6,518.5 C494.5,519.2 497.5,520.2 498.7,520.6" fill="none" stroke="#df1a26" stroke-width="1.4" stroke-dasharray="7.7 5.9" stroke-linejoin="round"/>
<path d="M216.4,309.0 C216.4,317.5 216.5,344.8 216.7,360.0 C216.9,375.2 217.2,389.2 217.5,400.0 C217.8,410.8 218.2,416.6 218.6,425.0 C219.0,433.4 219.4,443.0 219.9,450.3 C220.4,457.6 220.7,462.7 221.3,468.6 C221.9,474.6 222.7,480.7 223.6,486.0 C224.5,491.3 225.5,496.5 226.8,500.6 C228.1,504.8 229.8,508.1 231.3,510.9 C232.8,513.7 234.2,515.4 236.0,517.5 C237.8,519.6 239.8,521.8 242.3,523.7 C244.8,525.6 247.8,527.4 251.0,528.9 C254.2,530.4 257.7,531.7 261.5,532.8 C265.3,533.9 269.7,534.9 273.8,535.6 C277.9,536.4 281.7,536.7 286.1,537.3 C290.5,537.9 295.7,538.6 300.1,539.1 C304.5,539.6 309.1,539.9 312.3,540.3 C315.5,540.6 317.2,540.8 319.3,541.2 C321.4,541.6 322.6,542.1 324.6,542.9 C326.7,543.7 329.9,545.5 331.6,546.2 C333.3,546.9 333.5,546.8 335.0,547.3 C336.5,547.8 338.9,548.5 340.8,549.0 C342.8,549.5 344.8,549.9 346.7,550.2 C348.6,550.5 350.8,550.7 352.5,550.8 C354.2,550.9 356.2,550.6 357.0,550.6 C357.5,550.2 359.0,549.1 360.1,548.2 C361.2,547.4 361.7,546.9 363.8,545.5 C365.9,544.1 369.6,541.5 372.5,539.6 C375.4,537.7 378.4,535.9 381.3,534.3 C384.2,532.7 387.1,531.4 390.0,530.0 C392.9,528.6 395.9,527.3 398.8,526.1 C401.7,524.9 404.4,524.0 407.5,523.0 C410.6,522.0 414.2,521.0 417.6,520.4 C421.0,519.8 424.6,519.4 428.1,519.1 C431.6,518.9 435.1,518.9 438.6,518.9 C442.1,518.9 445.8,519.1 449.3,519.3 C452.9,519.5 456.4,519.6 459.9,519.9 C463.4,520.1 467.6,520.5 470.5,520.8 C473.4,521.1 475.4,521.3 477.5,521.7 C479.6,522.1 480.7,523.0 482.8,523.4 C484.9,523.8 488.0,524.2 489.9,524.3 C491.8,524.4 493.3,523.9 494.3,523.8 C495.3,523.6 495.3,523.0 496.0,523.4 C496.7,523.8 498.2,525.5 498.7,525.9" fill="none" stroke="#1a1a1a" stroke-width="1.4" stroke-linejoin="round"/>
</g>
<line x1="230.15" y1="567.5" x2="230.15" y2="563.3" stroke="#555" stroke-width="0.7"/>
<line x1="244.30" y1="567.5" x2="244.30" y2="563.3" stroke="#555" stroke-width="0.7"/>
<line x1="258.45" y1="567.5" x2="258.45" y2="563.3" stroke="#555" stroke-width="0.7"/>
<line x1="272.60" y1="567.5" x2="272.60" y2="563.3" stroke="#555" stroke-width="0.7"/>
<line x1="300.90" y1="567.5" x2="300.90" y2="563.3" stroke="#555" stroke-width="0.7"/>
<line x1="315.05" y1="567.5" x2="315.05" y2="563.3" stroke="#555" stroke-width="0.7"/>
<line x1="329.20" y1="567.5" x2="329.20" y2="563.3" stroke="#555" stroke-width="0.7"/>
<line x1="343.35" y1="567.5" x2="343.35" y2="563.3" stroke="#555" stroke-width="0.7"/>
<line x1="371.65" y1="567.5" x2="371.65" y2="563.3" stroke="#555" stroke-width="0.7"/>
<line x1="385.80" y1="567.5" x2="385.80" y2="563.3" stroke="#555" stroke-width="0.7"/>
<line x1="399.95" y1="567.5" x2="399.95" y2="563.3" stroke="#555" stroke-width="0.7"/>
<line x1="414.10" y1="567.5" x2="414.10" y2="563.3" stroke="#555" stroke-width="0.7"/>
<line x1="442.40" y1="567.5" x2="442.40" y2="563.3" stroke="#555" stroke-width="0.7"/>
<line x1="456.55" y1="567.5" x2="456.55" y2="563.3" stroke="#555" stroke-width="0.7"/>
<line x1="470.70" y1="567.5" x2="470.70" y2="563.3" stroke="#555" stroke-width="0.7"/>
<line x1="484.85" y1="567.5" x2="484.85" y2="563.3" stroke="#555" stroke-width="0.7"/>
<line x1="286.75" y1="567.5" x2="286.75" y2="560.2" stroke="#222" stroke-width="1.5"/>
<line x1="357.50" y1="567.5" x2="357.50" y2="560.2" stroke="#222" stroke-width="1.5"/>
<line x1="428.25" y1="567.5" x2="428.25" y2="560.2" stroke="#222" stroke-width="1.5"/>
<line x1="216.0" y1="546.26" x2="220.2" y2="546.26" stroke="#555" stroke-width="0.7"/>
<line x1="216.0" y1="535.52" x2="220.2" y2="535.52" stroke="#555" stroke-width="0.7"/>
<line x1="216.0" y1="524.78" x2="220.2" y2="524.78" stroke="#555" stroke-width="0.7"/>
<line x1="216.0" y1="514.04" x2="220.2" y2="514.04" stroke="#555" stroke-width="0.7"/>
<line x1="216.0" y1="492.56" x2="220.2" y2="492.56" stroke="#555" stroke-width="0.7"/>
<line x1="216.0" y1="481.82" x2="220.2" y2="481.82" stroke="#555" stroke-width="0.7"/>
<line x1="216.0" y1="471.08" x2="220.2" y2="471.08" stroke="#555" stroke-width="0.7"/>
<line x1="216.0" y1="460.34" x2="220.2" y2="460.34" stroke="#555" stroke-width="0.7"/>
<line x1="216.0" y1="438.86" x2="220.2" y2="438.86" stroke="#555" stroke-width="0.7"/>
<line x1="216.0" y1="428.12" x2="220.2" y2="428.12" stroke="#555" stroke-width="0.7"/>
<line x1="216.0" y1="417.38" x2="220.2" y2="417.38" stroke="#555" stroke-width="0.7"/>
<line x1="216.0" y1="406.64" x2="220.2" y2="406.64" stroke="#555" stroke-width="0.7"/>
<line x1="216.0" y1="385.16" x2="220.2" y2="385.16" stroke="#555" stroke-width="0.7"/>
<line x1="216.0" y1="374.42" x2="220.2" y2="374.42" stroke="#555" stroke-width="0.7"/>
<line x1="216.0" y1="363.68" x2="220.2" y2="363.68" stroke="#555" stroke-width="0.7"/>
<line x1="216.0" y1="352.94" x2="220.2" y2="352.94" stroke="#555" stroke-width="0.7"/>
<line x1="216.0" y1="331.46" x2="220.2" y2="331.46" stroke="#555" stroke-width="0.7"/>
<line x1="216.0" y1="320.72" x2="220.2" y2="320.72" stroke="#555" stroke-width="0.7"/>
<line x1="216.0" y1="557.00" x2="223.3" y2="557.00" stroke="#222" stroke-width="1.5"/>
<line x1="216.0" y1="503.30" x2="223.3" y2="503.30" stroke="#222" stroke-width="1.5"/>
<line x1="216.0" y1="449.60" x2="223.3" y2="449.60" stroke="#222" stroke-width="1.5"/>
<line x1="216.0" y1="395.90" x2="223.3" y2="395.90" stroke="#222" stroke-width="1.5"/>
<line x1="216.0" y1="342.20" x2="223.3" y2="342.20" stroke="#222" stroke-width="1.5"/>
<text x="212.00" y="561.70" text-anchor="end" font-size="16">0</text>
<text x="212.00" y="508.00" text-anchor="end" font-size="16">0.005</text>
<text x="212.00" y="454.30" text-anchor="end" font-size="16">0.010</text>
<text x="212.00" y="400.60" text-anchor="end" font-size="16">0.015</text>
<text x="212.00" y="346.90" text-anchor="end" font-size="16">0.020</text>
<text x="216.00" y="582.70" text-anchor="middle" font-size="16">0</text>
<text x="286.75" y="582.70" text-anchor="middle" font-size="16">0.5</text>
<text x="356.80" y="582.70" text-anchor="middle" font-size="16">1.0</text>
<text x="427.55" y="582.70" text-anchor="middle" font-size="16">1.5</text>
<text x="499.00" y="582.70" text-anchor="middle" font-size="16">2.0</text>
<line x1="392.9" y1="325.0" x2="440.9" y2="325.0" stroke="#df1a26" stroke-width="1.6" stroke-dasharray="7.7 5.9"/>
<line x1="392.9" y1="339.3" x2="446.8" y2="339.3" stroke="#1a1a1a" stroke-width="1.6"/>
<line x1="392.9" y1="353.5" x2="445.1" y2="353.5" stroke="#4fae2a" stroke-width="1.6" stroke-dasharray="7.4 2 1.8 2.4"/>
<text x="448.7" y="328.5" font-size="13.7" font-style="italic">T</text>
<text x="456.8" y="332.3" font-size="8.2">w</text>
<text x="464.8" y="328.5" font-size="13.7" textLength="9.4" lengthAdjust="spacingAndGlyphs">=</text>
<text x="475.5" y="328.5" font-size="13.7">300</text>
<text x="448.7" y="342.7" font-size="13.7" font-style="italic">T</text>
<text x="456.8" y="346.5" font-size="8.2">w</text>
<text x="464.8" y="342.7" font-size="13.7" textLength="9.4" lengthAdjust="spacingAndGlyphs">=</text>
<text x="475.5" y="342.7" font-size="13.7">400</text>
<text x="448.7" y="356.9" font-size="13.7" font-style="italic">T</text>
<text x="456.8" y="360.7" font-size="8.2">w</text>
<text x="464.8" y="356.9" font-size="13.7" textLength="9.4" lengthAdjust="spacingAndGlyphs">=</text>
<text x="475.5" y="356.9" font-size="13.7">500</text>
<text transform="translate(175.5,445.2) rotate(-90)" font-size="16.5" font-style="italic">St</text>
<text x="357.0" y="594.4" text-anchor="middle" font-size="17" font-style="italic">x</text>
<text x="335.2" y="608.6" text-anchor="middle" font-size="15.5">(c)</text>
</svg>
</body></html>
